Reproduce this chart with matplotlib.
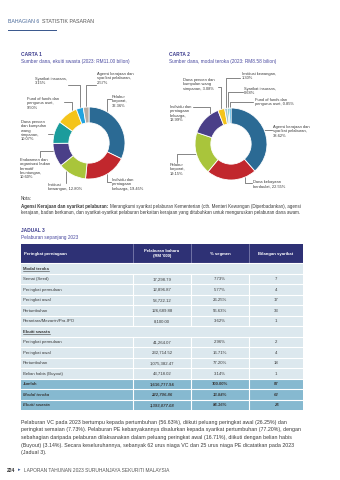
import numpy as np
import matplotlib
matplotlib.use('Agg')
import matplotlib.pyplot as plt
from matplotlib import font_manager
from matplotlib.patches import Rectangle

#_Data__________________________________________________________________________

# Carta 1: sumber dana, ekuiti swasta
c1_labels = ['Pelabur korporat', 'Individu dan perniagaan keluarga',
             'Institusi kewangan', 'Endowmen dan organisasi bukan bermotif keuntungan',
             'Dana pencen dan kumpulan wang simpanan', 'Fund of funds dan pengurus aset',
             'Syarikat insurans', 'Agensi kerajaan dan syarikat pelaburan']
c1_values = [32.36, 19.45, 12.80, 10.60, 10.07, 9.50, 3.15, 2.57]

# Carta 2: sumber dana, modal teroka
c2_labels = ['Agensi kerajaan dan syarikat pelaburan', 'Dana kekayaan berdaulat',
             'Pelabur korporat', 'Individu dan perniagaan keluarga',
             'Dana pencen dan kumpulan wang simpanan', 'Institusi kewangan',
             'Syarikat insurans', 'Fund of funds dan pengurus aset']
c2_values = [38.62, 22.55, 19.15, 13.99, 3.08, 1.30, 0.68, 0.85]

# Jadual 3: pelaburan sepanjang 2023
vc_stages = ['Semai (Seed)', 'Peringkat permulaan', 'Peringkat awal', 'Pertumbuhan',
             'Perantara/Mezanin/Pra-IPO']
vc_amount = ['17,298.79', '12,896.87', '58,722.12', '126,689.88', '8,100.00']
vc_pct = ['7.73%', '5.77%', '26.25%', '56.63%', '3.62%']
vc_count = ['7', '4', '17', '33', '1']

pe_stages = ['Peringkat permulaan', 'Peringkat awal', 'Pertumbuhan', 'Belian habis (Buyout)']
pe_amount = ['41,264.07', '232,714.52', '1,075,382.47', '43,718.02']
pe_pct = ['2.96%', '16.71%', '77.20%', '3.14%']
pe_count = ['2', '4', '18', '1']

total_names = ['Jumlah', 'Modal teroka', 'Ekuiti swasta']
total_amount = ['1,616,777.94', '222,706.86', '1,393,077.08']
total_pct = ['100.00%', '13.84%', '86.16%']
total_count = ['87', '62', '25']

#_Style_________________________________________________________________________

W, H = 340, 480
installed = {f.name for f in font_manager.fontManager.ttflist}
if 'Liberation Sans Narrow' in installed:
    narrow, nscale = 'Liberation Sans Narrow', 1.0
else:
    narrow, nscale = 'Liberation Sans', 0.82
body = 'Liberation Sans'
plt.rcParams['font.family'] = [body, 'DejaVu Sans']

navy = '#2e3175'
purple = '#3a3a8c'
txt = '#3a3a3a'
lead = '#555555'
row_light = '#dce8ee'
row_dark = '#86b9d0'

c1_colors = ['#2b6a94', '#c1272d', '#a9c53b', '#4a3f88', '#1b9c9c', '#f4c41b',
             '#21a3df', '#b5aca3']
c2_colors = ['#2b6a94', '#c1272d', '#a9c53b', '#4a3f88', '#f4c41b', '#a7c6cc',
             '#1b9c9c', '#21a3df']

label_fs = 3.5 * nscale
tab_fs = 3.7 * nscale

fig = plt.figure(figsize=(W / 100, H / 100), dpi=100)
page = fig.add_axes([0, 0, 1, 1])
page.set_xlim(0, W)
page.set_ylim(H, 0)
page.axis('off')
renderer = fig.canvas.get_renderer()


def measure(s, **kw):
    t = page.text(0, 0, s, **kw)
    w = t.get_window_extent(renderer).width
    t.remove()
    return w


def fit_size(lines, width, size, **kw):
    """ Shrink the font until the widest line fits in the column. """
    while max(measure(l, fontsize=size, **kw) for l in lines) > width:
        size -= 0.05
    return size

#_Header________________________________________________________________________

hdr_kw = dict(fontsize=3.8, va='center')
page.text(8, 21.5, 'BAHAGIAN 6', color='#4a6a9a', **hdr_kw)
wb = measure('BAHAGIAN 6', fontsize=3.8)
page.text(8 + wb + 3, 21.5, 'STATISTIK PASARAN', color='#555555', **hdr_kw)
page.add_patch(Rectangle((8, 29.5), 49, 1.8, color='#3d5a8f', lw=0))

#_Donut_charts__________________________________________________________________

r_px = 36


def donut(cx, cy, values, colors, layout):
    ax = fig.add_axes([(cx - r_px) / W, 1 - (cy + r_px) / H, 2 * r_px / W, 2 * r_px / H])
    ax.pie(values, colors=colors, startangle=90, counterclock=False,
           wedgeprops=dict(width=0.44, edgecolor='white', linewidth=0.6))
    ax.set_xlim(-1, 1)
    ax.set_ylim(-1, 1)
    ax.set_aspect('equal')
    frac = np.array(values) / np.sum(values)
    starts = np.concatenate([[0], np.cumsum(frac)[:-1]])
    for i, (label, tx, ty, mode, sx, sy, f) in enumerate(layout):
        page.text(tx, ty, label, fontsize=label_fs, family=[narrow, 'DejaVu Sans'],
                  color=txt, va='top', ha='left', linespacing=1.1)
        ang = np.deg2rad(90 - 360 * (starts[i] + f * frac[i]))
        rx, ry = cx + r_px * np.cos(ang), cy - r_px * np.sin(ang)
        if mode == 'hv':
            pts = [(sx, sy), (rx, sy), (rx, ry)]
        elif mode == 'vh':
            pts = [(sx, sy), (sx, ry), (rx, ry)]
        else:
            pts = [(rx, sy), (rx, ry)]
        xs, ys = zip(*pts)
        page.plot(xs, ys, color=lead, lw=0.5)
    return ax


# label text, text x/y, leader style, leader start x/y, position along wedge
c1_layout = [
    ('Pelabur\nkorporat,\n32.36%', 112, 95, 'hv', 111, 99, 0.26),
    ('Individu dan\nperniagaan\nkeluarga, 19.45%', 112, 178, 'hv', 111, 182, 0.5),
    ('Institusi\nkewangan, 12.80%', 48, 183, 'v', 0, 182.5, 0.75),
    ('Endowmen dan\norganisasi bukan\nbermotif\nkeuntungan,\n10.60%', 20, 158, 'vh', 40, 157, 0.69),
    ('Dana pencen\ndan kumpulan\nwang\nsimpanan,\n10.07%', 21, 120, 'hv', 48, 134, 0.38),
    ('Fund of funds dan\npengurus aset,\n9.50%', 27, 97, 'hv', 64, 102, 0.77),
    ('Syarikat insurans,\n3.15%', 35, 77, 'hv', 68, 85, 0.5),
    ('Agensi kerajaan dan\nsyarikat pelaburan,\n2.57%', 97, 72, 'hv', 96, 85, 0.5),
]
c2_layout = [
    ('Agensi kerajaan dan\nsyarikat pelaburan,\n38.62%', 273, 125, 'hv', 272, 130, 0.48),
    ('Dana kekayaan\nberdaulat, 22.55%', 253, 180, 'hv', 252, 183, 0.22),
    ('Pelabur\nkorporat,\n19.15%', 170, 163, 'vh', 177, 162, 0.49),
    ('Individu dan\nperniagaan\nkeluarga,\n13.99%', 170, 105, 'hv', 193, 107, 0.70),
    ('Dana pencen dan\nkumpulan wang\nsimpanan, 3.08%', 183, 78, 'hv', 218, 87, 0.5),
    ('Institusi kewangan,\n1.30%', 242, 72, 'hv', 240, 78, 0.5),
    ('Syarikat insurans,\n0.68%', 244, 87, 'hv', 243, 92, 0.5),
    ('Fund of funds dan\npengurus aset, 0.85%', 255, 98, 'hv', 253, 102, 0.5),
]

page.text(21, 54.5, 'CARTA 1', fontsize=3.5, weight='bold', color=purple, va='center')
page.text(21, 61, 'Sumber dana, ekuiti swasta (2023: RM11.00 bilion)', fontsize=3.4,
          color='#4a4aa0', va='center')
page.text(169, 54.5, 'CARTA 2', fontsize=3.5, weight='bold', color=purple, va='center')
page.text(169, 61, 'Sumber dana, modal teroka (2023: RM8.58 bilion)', fontsize=3.4,
          color='#4a4aa0', va='center')

donut(89, 143, c1_values, c1_colors, c1_layout)
donut(231, 144, c2_values, c2_colors, c2_layout)

#_Nota__________________________________________________________________________

nota_bold = 'Agensi Kerajaan dan syarikat pelaburan:'
nota_rest = ('Merangkumi syarikat pelaburan Kementerian (cth. Menteri Kewangan '
             '(Diperbadankan), agensi')
nota_line2 = ('kerajaan, badan berkanun, dan syarikat-syarikat pelaburan berkaitan '
              'kerajaan yang ditubuhkan untuk menguruskan pelaburan dana awam.')
nota_fs = fit_size([nota_bold + ' ' + nota_rest], 276, 4.2, color=txt)
nota_kw = dict(fontsize=nota_fs, color=txt, va='center')
page.text(21, 199, 'Nota:', **nota_kw)
page.text(21, 206.5, nota_bold, weight='bold', **nota_kw)
wb = measure(nota_bold + ' x', weight='bold', fontsize=nota_fs) - measure('x', fontsize=nota_fs)
page.text(21 + wb, 206.5, nota_rest, **nota_kw)
page.text(21, 212.5, nota_line2, **nota_kw)

#_Jadual_3______________________________________________________________________

page.text(21, 231, 'JADUAL 3', fontsize=3.5, weight='bold', color=purple, va='center')
page.text(21, 238, 'Pelaburan sepanjang 2023', fontsize=3.4, color='#4a4aa0', va='center')

col_x = [21, 133, 191, 249, 303]
head_top, head_bot, row_h = 244, 263, 10.5
tab_kw = dict(fontsize=tab_fs, family=[narrow, 'DejaVu Sans'], va='center')

page.add_patch(Rectangle((col_x[0], head_top), col_x[-1] - col_x[0], head_bot - head_top,
                         color=navy, lw=0))
for xc in col_x[1:-1]:
    page.plot([xc, xc], [head_top, head_bot], color='#8a8cb8', lw=0.5)
hy = (head_top + head_bot) / 2
page.text(24, hy, 'Peringkat perniagaan', color='white', weight='bold', ha='left', **tab_kw)
for j, h in enumerate(["Pelaburan baharu\n(RM '000)", '% segmen', 'Bilangan syarikat']):
    page.text((col_x[j + 1] + col_x[j + 2]) / 2, hy, h, color='white', weight='bold',
              ha='center', linespacing=1.1, **tab_kw)

rows = [('section', ['Modal teroka'])]
rows += [('data', r) for r in zip(vc_stages, vc_amount, vc_pct, vc_count)]
rows += [('section', ['Ekuiti swasta'])]
rows += [('data', r) for r in zip(pe_stages, pe_amount, pe_pct, pe_count)]
rows += [('total', r) for r in zip(total_names, total_amount, total_pct, total_count)]

for i, (kind, cells) in enumerate(rows):
    y0 = head_bot + i * row_h
    yc = y0 + row_h / 2 + 0.3
    fill = row_dark if kind == 'total' else row_light
    page.add_patch(Rectangle((col_x[0], y0), col_x[-1] - col_x[0], row_h, color=fill, lw=0))
    page.plot([col_x[0], col_x[-1]], [y0, y0], color='white', lw=0.8)
    if kind == 'section':
        page.text(23, yc, cells[0], color=txt, weight='bold', ha='left', **tab_kw)
        wd = measure(cells[0], weight='bold', **tab_kw)
        page.plot([23, 23 + wd], [yc + 2.6, yc + 2.6], color=txt, lw=0.4)
        continue
    for xc in col_x[1:-1]:
        page.plot([xc, xc], [y0, y0 + row_h], color='white', lw=0.8)
    extra = {}
    if kind == 'total':
        extra = dict(weight='bold', style='italic' if cells[0] != 'Jumlah' else 'normal')
    page.text(23, yc, cells[0], color=txt, ha='left', **extra, **tab_kw)
    for j, c in enumerate(cells[1:]):
        page.text((col_x[j + 1] + col_x[j + 2]) / 2, yc, c, color=txt, ha='center',
                  **extra, **tab_kw)

#_Paragraph_____________________________________________________________________

para = [
    'Pelaburan VC pada 2023 bertumpu kepada pertumbuhan (56.63%), diikuti peluang peringkat awal (26.25%) dan',
    'peringkat semaian (7.73%). Pelaburan PE kebanyakannya disalurkan kepada syarikat pertumbuhan (77.20%), dengan',
    'sebahagian daripada pelaburan dilaksanakan dalam peluang peringkat awal (16.71%), diikuti dengan belian habis',
    '(Buyout) (3.14%). Secara keseluruhannya, sebanyak 62 urus niaga VC dan 25 urus niaga PE dicatatkan pada 2023',
    '(Jadual 3).',
]
para_fs = fit_size(para[:-1], 282, 5.2, color=txt)
for k, line in enumerate(para):
    page.text(21, 422.5 + 7.5 * k, line, fontsize=para_fs, color=txt, va='center')

#_Footer________________________________________________________________________

page.text(7, 470, '224', fontsize=3.6, weight='bold', color='#333333', va='center')
page.text(18, 470, '\u25b8', fontsize=3.6, color='#3d5a8f', va='center',
          family=['DejaVu Sans'])
page.text(24, 470, 'LAPORAN TAHUNAN 2023 SURUHANJAYA SEKURITI MALAYSIA', fontsize=3.5,
          color='#555555', va='center')

fig.savefig('out.png', dpi=100)
